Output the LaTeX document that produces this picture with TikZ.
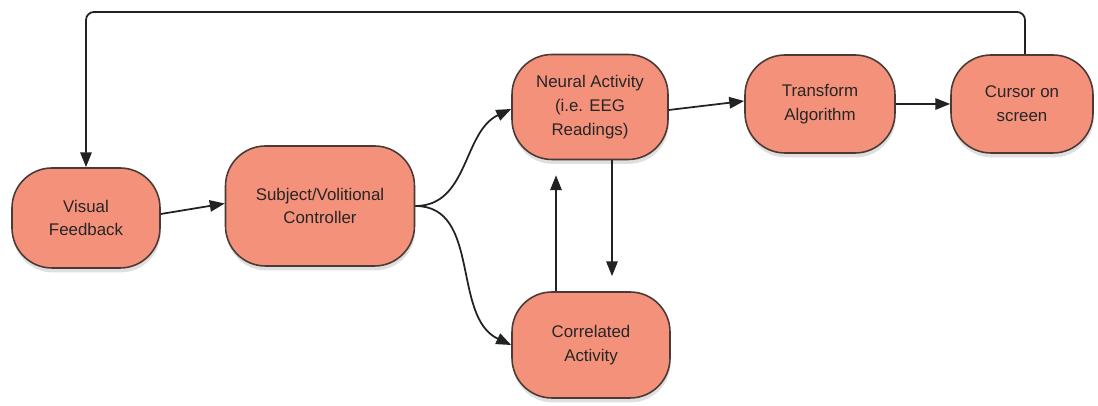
\documentclass[tikz,border=0pt]{standalone}
\usepackage{fontspec}
\setmainfont{Liberation Sans}
\usetikzlibrary{arrows.meta,shadows}

\definecolor{boxfill}{HTML}{F4917A}
\definecolor{boxline}{HTML}{4A3A35}
\definecolor{wire}{HTML}{222222}

\tikzset{
    stage/.style={draw=boxline, fill=boxfill, line width=0.9pt,
        rounded corners=0.8cm, align=center, inner sep=0pt,
        font=\fontsize{9.6}{13.6}\selectfont, text=black!85,
        drop shadow={shadow xshift=0.4pt, shadow yshift=-2.5pt, opacity=0.25}},
    link/.style={draw=wire, line width=1pt,
        -{Triangle[length=8.5pt,width=6.5pt]}}
}

\begin{document}
\begin{tikzpicture}
    \useasboundingbox (0, 0) rectangle (21.96, 8.12);

    % Coordinates of the stages
    \coordinate (V) at (1.72, 3.76);
    \coordinate (S) at (6.40, 4.00);
    \coordinate (N) at (11.80, 5.98);
    \coordinate (C) at (11.82, 1.22);
    \coordinate (T) at (16.40, 6.04);
    \coordinate (K) at (20.44, 6.04);

    % The stages
    \node[stage, minimum width=2.96cm, minimum height=2.00cm] (visual) at (V) {Visual\\Feedback};
    \node[stage, minimum width=3.78cm, minimum height=2.40cm] (subject) at (S) {Subject/Volitional\\Controller};
    \node[stage, minimum width=3.12cm, minimum height=2.10cm] (neural) at (N) {Neural Activity\\(i.e. EEG\\Readings)};
    \node[stage, minimum width=3.16cm, minimum height=2.12cm] (correlated) at (C) {Correlated\\Activity};
    \node[stage, minimum width=3.00cm, minimum height=1.96cm] (transform) at (T) {Transform\\Algorithm};
    \node[stage, minimum width=2.84cm, minimum height=1.96cm] (cursor) at (K) {Cursor on\\screen};

    % The forward path
    \draw[link] (visual.east) ++(0, 0.08) -- ([yshift=0.05cm]subject.west);
    \draw[link] (subject.east) to[out=0, in=205] ([yshift=-0.04cm]neural.west);
    \draw[link] (subject.east) to[out=0, in=155] (correlated.west);
    \draw[link] ([yshift=-0.06cm]neural.east) -- ([yshift=0.06cm]transform.west);
    \draw[link] (transform.east) -- (cursor.west);

    % Between neural and correlated activity
    \draw[link, shorten >=0.3cm] ([xshift=0.44cm]neural.south) -- ([xshift=0.44cm]neural.south |- correlated.north);
    \draw[link, shorten >=0.3cm] ([xshift=-0.70cm]correlated.north) -- ([xshift=-0.70cm]correlated.north |- neural.south);

    % The feedback loop
    \coordinate (top) at (0, 7.88);
    \draw[link, rounded corners=0.16cm] ([xshift=0.06cm]cursor.north) -- ([xshift=0.06cm]cursor.north |- top)
        -- (visual.north |- top) -- (visual.north);
\end{tikzpicture}
\end{document}
